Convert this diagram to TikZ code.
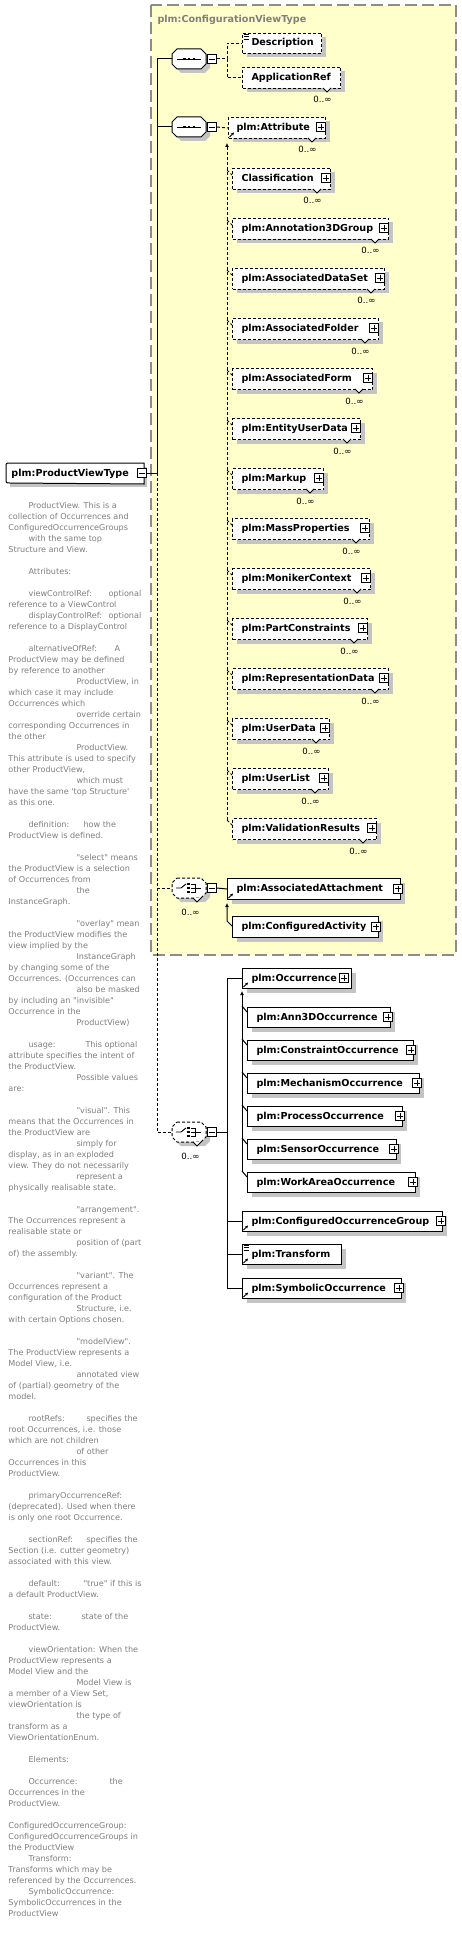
\documentclass[tikz,border=0pt]{standalone}
\usepackage{fontspec}
\usetikzlibrary{arrows.meta,shadows,calc}
\newfontfamily\dvs[Ligatures=TeXOff]{DejaVu Sans}
\definecolor{yel}{HTML}{FFFFCC}
\definecolor{ybd}{HTML}{8C8C8C}
\definecolor{shd}{HTML}{C4C4C4}
\definecolor{dsc}{HTML}{7F7F7F}
\newcounter{dlc}
\tikzset{
 dsh/.style={dash pattern=on 3pt off 2pt},
 lbl/.style={font=\dvs\bfseries\fontsize{9.6}{11}\selectfont, anchor=base west, inner sep=0},
 desctext/.style={font=\dvs\fontsize{8.1}{10}\selectfont, text=dsc, anchor=base west, inner sep=0},
 mult/.style={font=\dvs\fontsize{8.6}{10}\selectfont, anchor=base east, inner sep=0},
 ebox/.style={draw, fill=white, inner sep=0, anchor=north west, drop shadow={shadow xshift=4pt, shadow yshift=-4pt, fill=shd, opacity=1}},
 minusb/.style={draw, fill=white, minimum size=9pt, inner sep=0, line width=0.8pt, solid,
   path picture={\draw[line width=0.8pt] ([xshift=-3pt]path picture bounding box.center) -- ([xshift=3pt]path picture bounding box.center);}},
 plusb/.style={draw, fill=white, minimum size=9pt, inner sep=0, line width=0.8pt, solid,
   path picture={\draw[line width=0.8pt] ([xshift=-3pt]path picture bounding box.center) -- ([xshift=3pt]path picture bounding box.center) ([yshift=-3pt]path picture bounding box.center) -- ([yshift=3pt]path picture bounding box.center);}},
}
% element box: name, style, left, top, right, height, text, text offset
\newcommand\elem[8]{%
 \node[ebox,#2,minimum width={(#5-#3)*1pt},minimum height={(#6)*1pt}] (#1) at (#3,#4) {};%
 \node[lbl] (#1t) at ({#3+#8},{#4+(#6)/2+3}) {#7};}
% multiplicity: name, right, bottom
\newcommand\mul[3]{%
 \draw[fill=white,line width=0.8pt] ({#2-17},{#3}) -- ({#2-13},{#3+4}) -- ({#2-9},{#3});%
 \node[mult] (#1) at ({#2-8},{#3+15}) {0..∞};}
% members of the first substitution group: name, top, right, text
\newcommand\mem[4]{%
 \elem{#1}{dsh}{232}{#2}{#3}{21}{#4}{9}%
 \node[plusb] (#1p) at ({#3-4},{#2+10}) {};%
 \mul{#1x}{#3}{#2+21}%
 \draw[dsh] ($(#1.north west)+(-5pt,-2pt)$) -- ($(#1.north west)+(0pt,-7pt)$);}
% members of the second substitution group
\newcommand\omem[4]{%
 \elem{#1}{solid}{247}{#2}{#3}{20}{#4}{9}%
 \node[plusb] (#1p) at ({#3-2},{#2+10}) {};%
 \draw ($(#1.north west)+(-5pt,1pt)$) -- ($(#1.north west)+(0pt,-5pt)$);}
% reference arrow icon
\newcommand\rar[1]{\draw[line width=0.9pt,-{Stealth[length=3pt,width=3pt]}] ($(#1.south west)+(1.5pt,2pt)$) -- ++(4.5pt,4.5pt);}
% simple content icon
\newcommand\eqi[1]{\draw[line width=0.7pt] ($(#1.north west)+(1.5pt,-1.5pt)$) -- ++(5pt,0pt) ($(#1.north west)+(1.5pt,-3.8pt)$) -- ++(5pt,0pt) ($(#1.north west)+(1.5pt,-6.1pt)$) -- ++(5pt,0pt);}
% octagon compositor: name, centre y, style
\newcommand\octo[3]{%
 \fill[shd] (181,#2-6) -- (205,#2-6) -- (210,#2-1) -- (210,#2+9) -- (205,#2+14) -- (181,#2+14) -- (176,#2+9) -- (176,#2-1) -- cycle;%
 \draw[fill=white,#3] (177,#2-10) -- (201,#2-10) -- (206,#2-5) -- (206,#2+5) -- (201,#2+10) -- (177,#2+10) -- (172,#2+5) -- (172,#2-5) -- cycle;%
 \node[inner sep=0,minimum width=34pt,minimum height=20pt] (#1) at (189,#2) {};%
 \node[minusb] (#1m) at (212,#2) {};}
\newcommand\seqicon[1]{%
 \draw[line width=0.9pt] (177,#1) -- (201,#1);%
 \fill (182.7,#1-1.4) rectangle ++(2.8,2.8); \fill (187.6,#1-1.4) rectangle ++(2.8,2.8); \fill (192.5,#1-1.4) rectangle ++(2.8,2.8);}
\newcommand\choiceicon[1]{%
 \draw[line width=0.9pt] (176,#1) -- (181,#1) -- (186,#1-4);%
 \fill (187,#1-5.4) rectangle ++(2.7,2.7); \fill (187,#1-1.35) rectangle ++(2.7,2.7); \fill (187,#1+2.7) rectangle ++(2.7,2.7);%
 \draw[line width=0.9pt] (191,#1-4) -- (195,#1-4) -- (195,#1+4) -- (191,#1+4) (191,#1) -- (201,#1);}
% description lines
\newcommand\dl[2]{\node[desctext] (dl\arabic{dlc}a) at (#1,{508+11*\arabic{dlc}}) {#2};\stepcounter{dlc}}
\newcommand\dlt[4]{\node[desctext] (dl\arabic{dlc}a) at (#1,{508+11*\arabic{dlc}}) {#2};\node[desctext] (dl\arabic{dlc}b) at (#3,{508+11*\arabic{dlc}}) {#4};\stepcounter{dlc}}
\newcommand\dlb{\stepcounter{dlc}}
\begin{document}
\begin{tikzpicture}[x=1pt,y=-1pt,line width=1pt]
\useasboundingbox (0,0) rectangle (462,1934);
\fill[white] (0,0) rectangle (462,1934);
% base type box
\draw[ybd,fill=yel,line width=1.2pt,dash pattern=on 12pt off 5pt] (151,5) rectangle (456,955);
\node[lbl,text=dsc] (cvt) at (157,23) {plm:ConfigurationViewType};
% ProductViewType
\fill[shd] (10,467) rectangle (147,487);
\node[inner sep=0,minimum width=137pt,minimum height=20pt,anchor=north west] (pv) at (6,463) {};
\draw[fill=white] (pv.north east) -- (10,463) .. controls (6,463) .. (6,467) -- (6,479) .. controls (6,483) .. (10,483) -- (pv.south east) -- cycle;
\node[lbl] (pvt) at (11,476) {plm:ProductViewType};
\node[minusb] (pvm) at (141.5,473) {};
% compositors
\octo{s1}{59}{solid} \seqicon{59}
\octo{s2}{127}{solid} \seqicon{127}
\octo{c1}{888}{dsh} \choiceicon{888}
\draw[fill=white,line width=0.8pt] (193,898) -- (197,902) -- (201,898);
\node[mult] (c1x) at (200,915) {0..∞};
\octo{c2}{1132}{dsh} \choiceicon{1132}
\draw[fill=white,line width=0.8pt] (193,1142) -- (197,1146) -- (201,1142);
\node[mult] (c2x) at (200,1159) {0..∞};
% main connector
\coordinate (mx) at (157,473);
\draw (pvm.east) -- (mx);
\draw (s1.west) -| (mx);
\draw (s2.west) -- (s2.west -| mx);
\draw[dsh] (mx) |- (c2.west);
\draw[dsh] (c1.west -| mx) -- (c1.west);
% first sequence
\elem{descr}{dsh}{242}{33}{321}{20}{Description}{9}
\eqi{descr}
\elem{apr}{dsh}{242}{67}{340}{21}{ApplicationRef}{9}
\mul{aprx}{340}{88}
\coordinate (j1) at (227,59);
\draw[dsh] (s1m.east) -- (j1) |- (descr.west);
\draw[dsh] (j1) |- (apr.west);
% second sequence: attribute group
\elem{m0}{dsh}{228}{117}{325}{21}{plm:Attribute}{8}
\node[plusb] (m0p) at (321,127) {};
\mul{m0x}{325}{138}
\rar{m0}
\draw[dsh] (s2m.east) -- (m0.west);
\mem{m1}{168}{330}{Classification}
\mem{m2}{218}{388}{plm:Annotation3DGroup}
\mem{m3}{268}{384}{plm:AssociatedDataSet}
\mem{m4}{318}{378}{plm:AssociatedFolder}
\mem{m5}{368}{372}{plm:AssociatedForm}
\mem{m6}{418}{360}{plm:EntityUserData}
\mem{m7}{468}{323}{plm:Markup}
\mem{m8}{518}{369}{plm:MassProperties}
\mem{m9}{568}{370}{plm:MonikerContext}
\mem{m10}{618}{367}{plm:PartConstraints}
\mem{m11}{668}{388}{plm:RepresentationData}
\mem{m12}{718}{329}{plm:UserData}
\mem{m13}{768}{328}{plm:UserList}
\mem{m14}{818}{376}{plm:ValidationResults}
\draw[dsh,-{Latex[length=4pt,width=4pt]}] ($(m14.north west)+(-5pt,-2pt)$) -- ($(m0.south west)+(-1pt,-4pt)$);
% first choice
\elem{aa}{solid}{227}{878}{400}{21}{plm:AssociatedAttachment}{9}
\node[plusb] (aap) at (398,888.5) {};
\rar{aa}
\elem{ca}{solid}{232}{916}{378}{21}{plm:ConfiguredActivity}{9}
\node[plusb] (cap) at (376,926.5) {};
\draw (c1m.east) -- (aa.west);
\draw[{Latex[length=4pt,width=4pt]}-] ($(aa.south west)+(0pt,-3pt)$) -- ($(ca.north west)+(-5pt,-5pt)$) -- ($(ca.north west)+(0pt,-10pt)$);
% second choice
\elem{occ}{solid}{242}{968}{351}{20}{plm:Occurrence}{9}
\node[plusb] (occp) at (344,978) {};
\rar{occ}
\omem{o1}{1007}{390}{plm:Ann3DOccurrence}
\omem{o2}{1040}{413}{plm:ConstraintOccurrence}
\omem{o3}{1073}{419}{plm:MechanismOccurrence}
\omem{o4}{1106}{402}{plm:ProcessOccurrence}
\omem{o5}{1139}{396}{plm:SensorOccurrence}
\omem{o6}{1172}{415}{plm:WorkAreaOccurrence}
\draw[-{Latex[length=4pt,width=4pt]}] ($(o6.north west)+(-5pt,1pt)$) -- ($(occ.south west)+(0pt,-2pt)$);
\elem{cog}{solid}{242}{1211}{442}{20}{plm:ConfiguredOccurrenceGroup}{9}
\node[plusb] (cogp) at (441,1221) {};
\rar{cog}
\elem{tra}{solid}{242}{1244}{341}{20}{plm:Transform}{9}
\eqi{tra}
\rar{tra}
\elem{sym}{solid}{242}{1278}{401}{20}{plm:SymbolicOccurrence}{9}
\node[plusb] (symp) at (399,1288) {};
\rar{sym}
\coordinate (j2) at (227,1132);
\draw (c2m.east) -- (j2);
\draw (occ.west) -- (occ.west -| j2) -- (sym.west -| j2) -- (sym.west);
\draw (cog.west -| j2) -- (cog.west);
\draw (tra.west -| j2) -- (tra.west);
% documentation text
\dl{28}{ProductView. This is a}
\dl{8}{collection of Occurrences and}
\dl{8}{ConfiguredOccurrenceGroups}
\dl{28}{with the same top}
\dl{8}{Structure and View.}
\dlb
\dl{28}{Attributes:}
\dlb
\dlt{28}{viewControlRef:}{108}{optional}
\dl{8}{reference to a ViewControl}
\dlt{28}{displayControlRef:}{108}{optional}
\dl{8}{reference to a DisplayControl}
\dlb
\dlt{28}{alternativeOfRef:}{114}{A}
\dl{8}{ProductView may be defined}
\dl{8}{by reference to another}
\dl{76}{ProductView, in}
\dl{8}{which case it may include}
\dl{8}{Occurrences which}
\dl{76}{override certain}
\dl{8}{corresponding Occurrences in}
\dl{8}{the other}
\dl{76}{ProductView.}
\dl{8}{This attribute is used to specify}
\dl{8}{other ProductView,}
\dl{76}{which must}
\dl{8}{have the same 'top Structure'}
\dl{8}{as this one.}
\dlb
\dlt{28}{definition:}{83}{how the}
\dl{8}{ProductView is defined.}
\dlb
\dl{76}{"select" means}
\dl{8}{the ProductView is a selection}
\dl{8}{of Occurrences from}
\dl{76}{the}
\dl{8}{InstanceGraph.}
\dlb
\dl{76}{"overlay" mean}
\dl{8}{the ProductView modifies the}
\dl{8}{view implied by the}
\dl{76}{InstanceGraph}
\dl{8}{by changing some of the}
\dl{8}{Occurrences. (Occurrences can}
\dl{76}{also be masked}
\dl{8}{by including an "invisible"}
\dl{8}{Occurrence in the}
\dl{76}{ProductView)}
\dlb
\dlt{28}{usage:}{85}{This optional}
\dl{8}{attribute specifies the intent of}
\dl{8}{the ProductView.}
\dl{76}{Possible values}
\dl{8}{are:}
\dlb
\dl{76}{"visual". This}
\dl{8}{means that the Occurrences in}
\dl{8}{the ProductView are}
\dl{76}{simply for}
\dl{8}{display, as in an exploded}
\dl{8}{view. They do not necessarily}
\dl{76}{represent a}
\dl{8}{physically realisable state.}
\dlb
\dl{76}{"arrangement".}
\dl{8}{The Occurrences represent a}
\dl{8}{realisable state or}
\dl{76}{position of (part}
\dl{8}{of) the assembly.}
\dlb
\dl{76}{"variant". The}
\dl{8}{Occurrences represent a}
\dl{8}{configuration of the Product}
\dl{76}{Structure, i.e.}
\dl{8}{with certain Options chosen.}
\dlb
\dl{76}{"modelView".}
\dl{8}{The ProductView represents a}
\dl{8}{Model View, i.e.}
\dl{76}{annotated view}
\dl{8}{of (partial) geometry of the}
\dl{8}{model.}
\dlb
\dlt{28}{rootRefs:}{86}{specifies the}
\dl{8}{root Occurrences, i.e. those}
\dl{8}{which are not children}
\dl{76}{of other}
\dl{8}{Occurrences in this}
\dl{8}{ProductView.}
\dlb
\dl{28}{primaryOccurrenceRef:}
\dl{8}{(deprecated). Used when there}
\dl{8}{is only one root Occurrence.}
\dlb
\dlt{28}{sectionRef:}{86}{specifies the}
\dl{8}{Section (i.e. cutter geometry)}
\dl{8}{associated with this view.}
\dlb
\dlt{28}{default:}{83}{"true" if this is}
\dl{8}{a default ProductView.}
\dlb
\dlt{28}{state:}{81}{state of the}
\dl{8}{ProductView.}
\dlb
\dl{28}{viewOrientation: When the}
\dl{8}{ProductView represents a}
\dl{8}{Model View and the}
\dl{76}{Model View is}
\dl{8}{a member of a View Set,}
\dl{8}{viewOrientation is}
\dl{76}{the type of}
\dl{8}{transform as a}
\dl{8}{ViewOrientationEnum.}
\dlb
\dl{28}{Elements:}
\dlb
\dlt{28}{Occurrence:}{109}{the}
\dl{8}{Occurrences in the}
\dl{8}{ProductView.}
\dlb
\dl{8}{ConfiguredOccurrenceGroup:}
\dl{8}{ConfiguredOccurrenceGroups in}
\dl{8}{the ProductView}
\dl{28}{Transform:}
\dl{8}{Transforms which may be}
\dl{8}{referenced by the Occurrences.}
\dl{28}{SymbolicOccurrence:}
\dl{8}{SymbolicOccurrences in the}
\dl{8}{ProductView}
\end{tikzpicture}
\end{document}
